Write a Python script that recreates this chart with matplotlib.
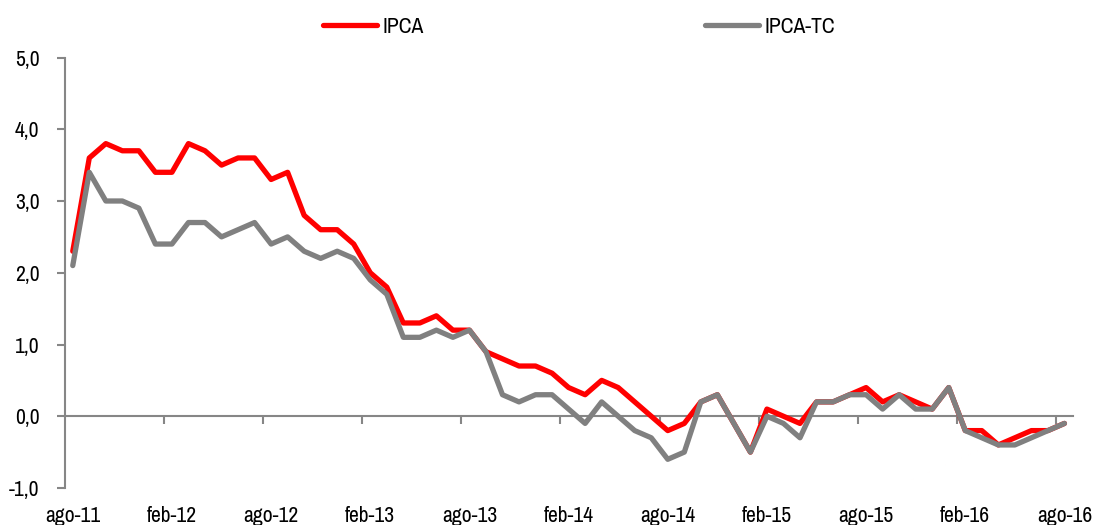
import matplotlib
matplotlib.use("Agg")
import matplotlib.pyplot as plt
import numpy as np

# monthly series, ago-11 .. ago-16
ipca = [2.3, 3.6, 3.8, 3.7, 3.7, 3.4, 3.4, 3.8, 3.7, 3.5, 3.6, 3.6,
        3.3, 3.4, 2.8, 2.6, 2.6, 2.4, 2.0, 1.8, 1.3, 1.3, 1.4, 1.2,
        1.2, 0.9, 0.8, 0.7, 0.7, 0.6, 0.4, 0.3, 0.5, 0.4, 0.2, 0.0,
        -0.2, -0.1, 0.2, 0.3, -0.1, -0.5, 0.1, 0.0, -0.1, 0.2, 0.2, 0.3,
        0.4, 0.2, 0.3, 0.2, 0.1, 0.4, -0.2, -0.2, -0.4, -0.3, -0.2, -0.2,
        -0.1]
ipca_tc = [2.1, 3.4, 3.0, 3.0, 2.9, 2.4, 2.4, 2.7, 2.7, 2.5, 2.6, 2.7,
           2.4, 2.5, 2.3, 2.2, 2.3, 2.2, 1.9, 1.7, 1.1, 1.1, 1.2, 1.1,
           1.2, 0.9, 0.3, 0.2, 0.3, 0.3, 0.1, -0.1, 0.2, 0.0, -0.2, -0.3,
           -0.6, -0.5, 0.2, 0.3, -0.1, -0.5, 0.0, -0.1, -0.3, 0.2, 0.2, 0.3,
           0.3, 0.1, 0.3, 0.1, 0.1, 0.4, -0.2, -0.3, -0.4, -0.4, -0.3, -0.2,
           -0.1]
tick_labels = ["ago-11", "feb-12", "ago-12", "feb-13", "ago-13", "feb-14",
               "ago-14", "feb-15", "ago-15", "feb-16", "ago-16"]
y_ticks = [-1, 0, 1, 2, 3, 4, 5]

plt.rcParams["font.family"] = ["Archivo Narrow", "PT Sans Narrow",
                               "Liberation Sans", "DejaVu Sans"]
FS = 15.5
AXC = "#868686"

fig = plt.figure(figsize=(10.96, 5.25), dpi=100)
ax = fig.add_axes([64.5 / 1096, 1 - 488 / 525, (1072.7 - 64.5) / 1096, (488 - 57.5) / 525])

x = np.arange(len(ipca))
ax.plot(x, ipca, color="#ff0000", lw=3.8, solid_joinstyle="round",
        solid_capstyle="round", label="IPCA")
ax.plot(x, ipca_tc, color="#808080", lw=3.8, solid_joinstyle="round",
        solid_capstyle="round", label="IPCA-TC")

ax.set_xlim(-0.5, 60.5)
ax.set_ylim(-1, 5)

# y axis
ax.set_yticks(y_ticks)
ax.set_yticklabels([f"{v:.1f}".replace(".", ",") for v in y_ticks], fontsize=FS)
ax.tick_params(axis="y", length=6, width=1.5, color=AXC, pad=12)
for s in ["top", "right", "bottom"]:
    ax.spines[s].set_visible(False)
ax.spines["left"].set_color(AXC)
ax.spines["left"].set_linewidth(1.5)

# category labels along the bottom
ax.set_xticks(x[::6])
ax.set_xticklabels(tick_labels, fontsize=FS)
ax.tick_params(axis="x", length=0, pad=13)

# axis line at zero with tick marks between categories
sec = ax.secondary_xaxis(1 / 6)
sec.set_xticks(np.arange(5.5, 60, 6))
sec.set_xticklabels([])
sec.tick_params(axis="x", length=6, width=1.5, color=AXC)
sec.spines["bottom"].set_color(AXC)
sec.spines["bottom"].set_linewidth(1.5)

fig.legend(loc="center left", bbox_to_anchor=(323 / 1096, 1 - 27 / 525),
           ncol=2, frameon=False, fontsize=FS, handlelength=2.5,
           handletextpad=0.25, columnspacing=13.1, borderpad=0,
           borderaxespad=0)

fig.savefig("out.png", dpi=100)
